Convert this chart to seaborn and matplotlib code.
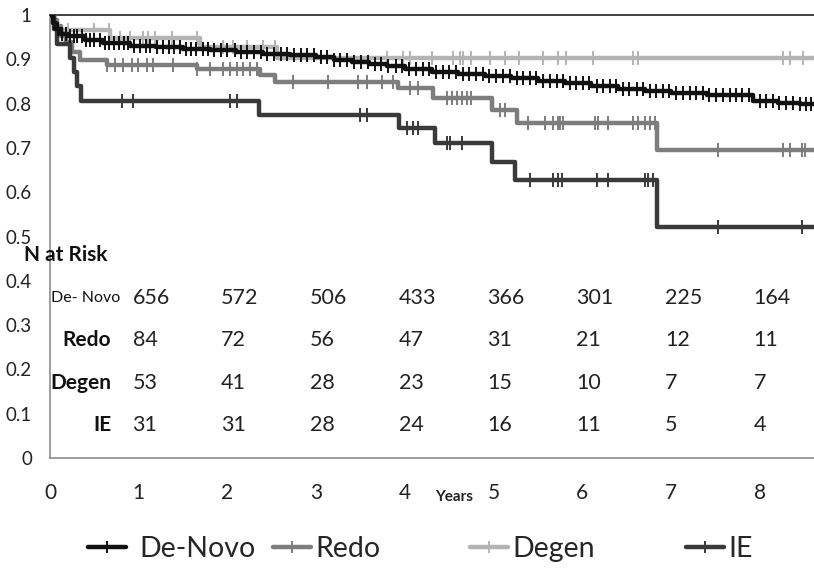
import numpy as np
import pandas as pd
import matplotlib
matplotlib.use("Agg")
import matplotlib.pyplot as plt
import seaborn as sns
from matplotlib.lines import Line2D

# Kaplan-Meier step curves (time in years, survival)
denovo_t = [0, 0.03, 0.07, 0.12, 0.2, 0.4, 0.6, 0.9, 1.2, 1.5, 1.8, 2.1, 2.4, 2.7, 3.0, 3.2, 3.4,
            3.6, 3.8, 4.0, 4.3, 4.6, 4.9, 5.2, 5.5, 5.8, 6.1, 6.4, 6.7, 7.0, 7.4, 7.92, 8.2, 8.45, 8.61]
denovo_s = [1.0, 0.982, 0.968, 0.958, 0.952, 0.943, 0.936, 0.931, 0.928, 0.924, 0.920, 0.917, 0.913,
            0.909, 0.905, 0.899, 0.894, 0.889, 0.884, 0.878, 0.872, 0.867, 0.862, 0.857, 0.852, 0.846,
            0.839, 0.833, 0.828, 0.823, 0.820, 0.805, 0.802, 0.798, 0.798]

redo_t = [0, 0.04, 0.08, 0.12, 0.18, 0.25, 0.34, 0.64, 1.66, 2.37, 2.54, 3.92, 4.32, 4.98, 5.26, 6.84, 8.61]
redo_s = [1.0, 0.988, 0.976, 0.952, 0.94, 0.917, 0.898, 0.887, 0.877, 0.865, 0.849, 0.835, 0.812,
          0.786, 0.757, 0.695, 0.695]

degen_t = [0, 0.04, 0.08, 0.68, 1.69, 2.56, 8.61]
degen_s = [1.0, 0.985, 0.967, 0.948, 0.928, 0.903, 0.903]

ie_t = [0, 0.04, 0.08, 0.23, 0.27, 0.31, 0.35, 2.35, 3.93, 4.34, 4.98, 5.24, 6.84, 8.61]
ie_s = [1.0, 0.968, 0.935, 0.903, 0.871, 0.839, 0.806, 0.775, 0.745, 0.711, 0.668, 0.628, 0.522, 0.522]

# censoring times
denovo_c = [0.05, 0.09, 0.14, 0.18, 0.22, 0.27, 0.31, 0.36, 0.41, 0.45, 0.5, 0.56, 0.62, 0.67, 0.72,
            0.78, 0.83, 0.88, 0.95, 1.02, 1.08, 1.13, 1.21, 1.27, 1.34, 1.4, 1.46, 1.53, 1.59, 1.64,
            1.72, 1.78, 1.85, 1.93, 2.0, 2.08, 2.15, 2.22, 2.3, 2.38, 2.45, 2.52, 2.6, 2.67, 2.75,
            2.83, 2.9, 2.97, 3.05, 3.12, 3.2, 3.27, 3.35, 3.43, 3.5, 3.58, 3.66, 3.73, 3.81, 3.9,
            3.97, 4.05, 4.12, 4.2, 4.27, 4.35, 4.43, 4.5, 4.58, 4.65, 4.72, 4.8, 4.88, 4.95, 5.03,
            5.1, 5.18, 5.26, 5.33, 5.41, 5.48, 5.56, 5.63, 5.71, 5.78, 5.86, 5.93, 6.01, 6.08, 6.16,
            6.23, 6.31, 6.38, 6.46, 6.53, 6.61, 6.68, 6.76, 6.83, 6.91, 6.98, 7.06, 7.13, 7.21, 7.28,
            7.36, 7.43, 7.51, 7.58, 7.66, 7.73, 7.8, 7.88, 8.0, 8.07, 8.15, 8.22, 8.3, 8.37, 8.45,
            8.52, 8.58]
redo_c = [0.64, 0.73, 0.82, 0.92, 0.99, 1.09, 1.16, 1.39, 1.66, 1.80, 1.95, 2.03, 2.11, 2.18, 2.25,
          2.33, 2.74, 3.13, 3.47, 3.57, 3.74, 3.87, 4.06, 4.15, 4.47, 4.53, 4.59, 4.64, 4.70, 4.74,
          5.07, 5.13, 5.39, 5.58, 5.67, 5.72, 5.75, 5.78, 6.14, 6.18, 6.29, 6.57, 6.63, 6.71, 6.76,
          6.82, 7.53, 8.26, 8.34, 8.48, 8.51]
degen_c = [0.2, 0.5, 0.66, 0.79, 0.90, 1.05, 1.10, 1.18, 1.38, 1.66, 1.95, 2.06, 2.22, 2.40, 2.54,
           3.80, 3.98, 4.06, 4.31, 4.54, 4.62, 4.66, 4.74, 4.96, 5.13, 5.28, 5.56, 5.73, 5.81, 6.12,
           6.57, 6.63, 8.26, 8.34, 8.49]
ie_c = [0.81, 0.94, 2.03, 2.11, 3.49, 3.57, 4.02, 4.09, 4.15, 4.47, 4.51, 4.64, 5.41, 5.67, 5.72,
        5.77, 6.17, 6.29, 6.71, 6.74, 6.80, 7.53, 8.48]

groups = ["De-Novo", "Redo", "Degen", "IE"]
colors = {"De-Novo": "#111111", "Redo": "#7d7d7d", "Degen": "#b4b4b4", "IE": "#3a3a3a"}

# numbers at risk
risk_years = [1, 2, 3, 4, 5, 6, 7, 8]
risk_denovo = [656, 572, 506, 433, 366, 301, 225, 164]
risk_redo = [84, 72, 56, 47, 31, 21, 12, 11]
risk_degen = [53, 41, 28, 23, 15, 10, 7, 7]
risk_ie = [31, 31, 28, 24, 16, 11, 5, 4]

curves = {"De-Novo": (denovo_t, denovo_s, denovo_c), "Redo": (redo_t, redo_s, redo_c),
          "Degen": (degen_t, degen_s, degen_c), "IE": (ie_t, ie_s, ie_c)}

sns.set_style("white")
plt.rcParams["font.family"] = ["Lato", "DejaVu Sans"]

fig = plt.figure(figsize=(8.14, 5.73), dpi=100)
ax = fig.add_axes([0.0614, 0.2007, 0.9386, 0.7731])

draw_order = ["Degen", "Redo", "IE", "De-Novo"]
for z, g in enumerate(draw_order):
    t, s, c = curves[g]
    df = pd.DataFrame({"t": t, "s": s})
    sns.lineplot(data=df, x="t", y="s", drawstyle="steps-post", color=colors[g], linewidth=3.2,
                 estimator=None, sort=False, ax=ax, zorder=3 + z)
    idx = np.searchsorted(np.array(t), np.array(c), side="right") - 1
    cdf = pd.DataFrame({"t": c, "s": np.array(s)[idx]})
    sns.scatterplot(data=cdf, x="t", y="s", marker="|", s=100, color=colors[g], linewidth=1.4,
                    ax=ax, zorder=3 + z)

ax.set_xlim(0, 8.61)
ax.set_ylim(0, 1)
ax.set_xticks(range(0, 9))
ax.set_xticklabels([str(i) for i in range(0, 9)])
yt = [i / 10 for i in range(0, 11)]
ax.set_yticks(yt)
ax.set_yticklabels(["0"] + [f"{v:.1f}" for v in yt[1:-1]] + ["1"])
ax.set_xlabel("")
ax.set_ylabel("")
ax.tick_params(axis="both", direction="inout", length=10, width=1, color="#8c8c8c",
               labelcolor="#222222")
ax.tick_params(axis="y", pad=8, labelsize=13.5)
ax.tick_params(axis="x", pad=13, labelsize=15)
for side in ["left", "bottom"]:
    ax.spines[side].set_color("#8c8c8c")
    ax.spines[side].set_linewidth(1.2)
ax.spines["top"].set_color("#222222")
ax.spines["top"].set_linewidth(1.2)
ax.spines["right"].set_visible(False)

# N at risk table
ax.text(-0.29, 0.458, "N at Risk", ha="left", va="center", fontsize=15, fontweight="bold",
        color="#111111", clip_on=False)
rows = [("De- Novo", risk_denovo, 0.361), ("Redo", risk_redo, 0.266),
        ("Degen", risk_degen, 0.169), ("IE", risk_ie, 0.074)]
for label, vals, yv in rows:
    if label == "De- Novo":
        ax.text(0.79, yv, label, ha="right", va="center", fontsize=11.5, color="#111111")
    else:
        ax.text(0.69, yv, label, ha="right", va="center", fontsize=15, fontweight="bold",
                color="#111111")
    for yr, v in zip(risk_years, vals):
        ax.text(yr - 0.07, yv, str(v), ha="left", va="center", fontsize=15.5, color="#222222")

fig.text(454 / 814, 1 - 497 / 573, "Years", ha="center", va="center", fontsize=11,
         fontweight="bold", color="#222222")

# legend, one entry per slot
legend_x = [88 / 814, 273 / 814, 470 / 814, 686 / 814]
legend_pad = [0.45, 0.15, 0.15, 0.15]
for g, lx, pd_ in zip(groups, legend_x, legend_pad):
    h = Line2D([], [], color=colors[g], linewidth=3.2, marker="|", markersize=9, markeredgewidth=1.4)
    fig.legend(handles=[h], labels=[g], loc="center left", bbox_to_anchor=(lx, 1 - 549 / 573),
               frameon=False, fontsize=20.5, handlelength=1.35, handletextpad=pd_,
               borderaxespad=0, borderpad=0)

fig.savefig("out.png", dpi=100)
